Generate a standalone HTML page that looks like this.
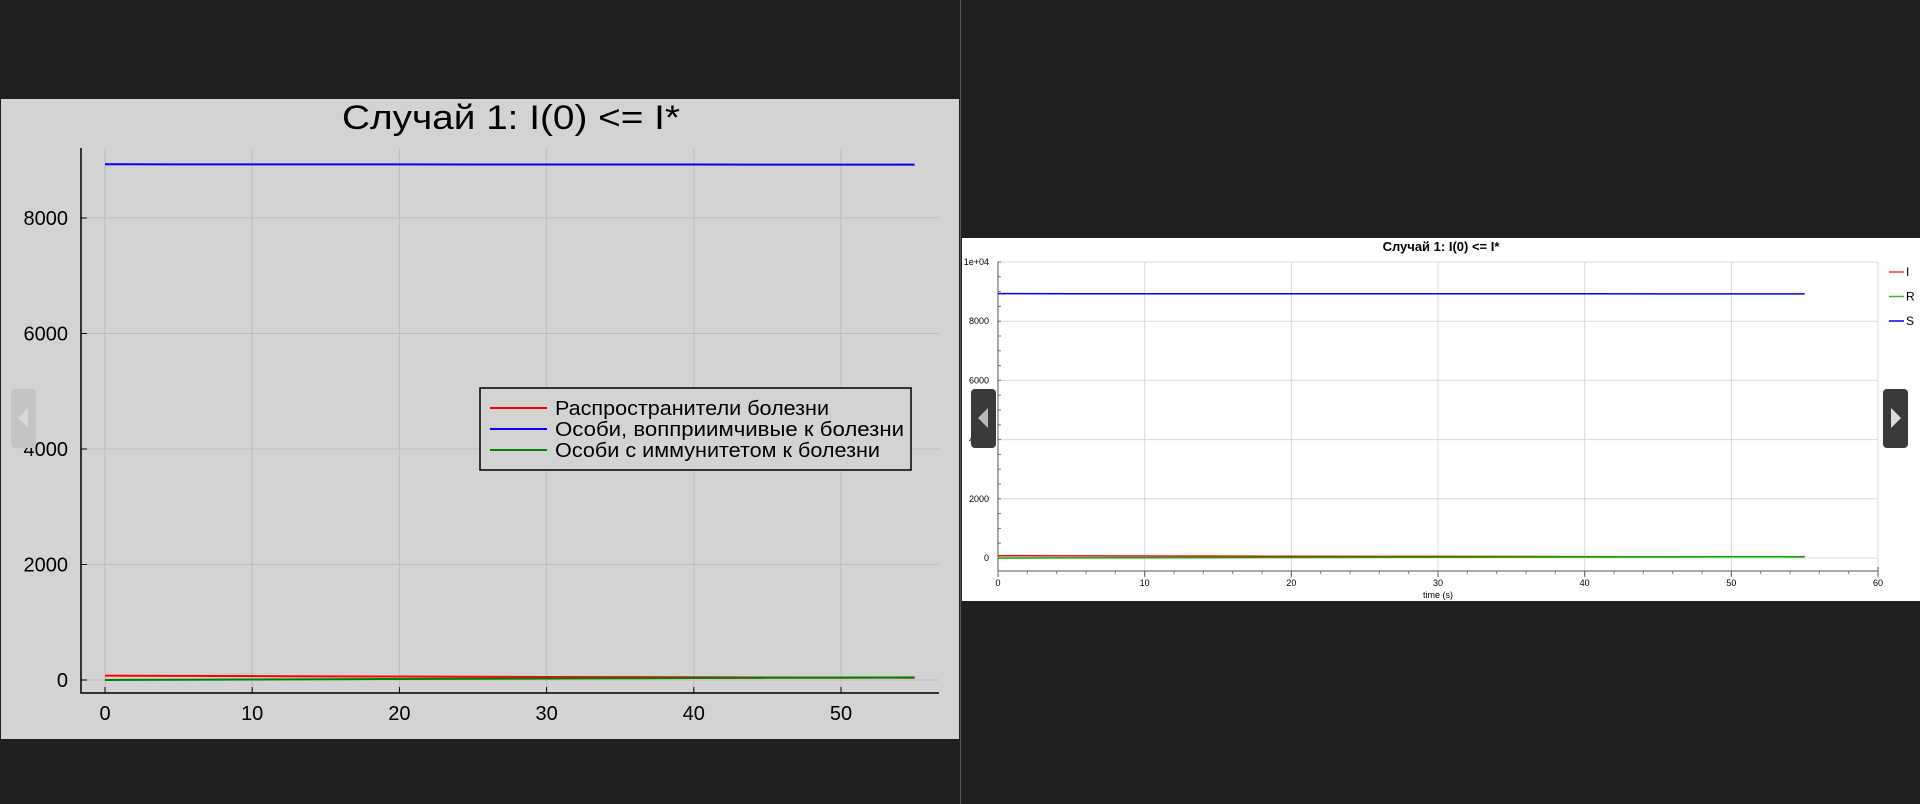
<!DOCTYPE html>
<html><head><meta charset="utf-8"><style>
html,body{margin:0;padding:0;background:#202020;width:1920px;height:804px;overflow:hidden}
svg{display:block}
text{font-family:"Liberation Sans","DejaVu Sans",sans-serif}
</style></head><body>
<svg id="s" width="1920" height="804" xmlns="http://www.w3.org/2000/svg">
<rect x="0" y="0" width="1920" height="804" fill="#202020"/>
<rect x="1" y="99" width="958" height="640" fill="#d3d3d3"/>
<line x1="960.5" y1="0" x2="960.5" y2="804" stroke="#555" stroke-width="1"/>
<rect x="962" y="238" width="958" height="363" fill="#ffffff"/>
<g id="L"></g>
<g id="R"></g>
<rect x="11" y="389" width="25" height="59" rx="4" fill="#c4c4c4"/>
<polygon points="28,408 18,418 28,428" fill="#d8d8d8"/>
<rect x="971" y="389" width="25" height="59" rx="4" fill="#3a3a3a"/>
<polygon points="988,408 978,418 988,428" fill="#bbb"/>
<rect x="1883" y="389" width="25" height="59" rx="4" fill="#3a3a3a"/>
<polygon points="1891,408 1901,418 1891,428" fill="#ddd"/>
</svg>
<script>
const times = [0, 5, 10, 15, 20, 25, 30, 35, 40, 45, 50, 55];
const infected = [75, 71, 67, 63, 60, 56, 53, 50, 47, 44, 42, 40];
const recovered = [0, 5, 9, 14, 18, 22, 26, 30, 34, 38, 41, 45];
const susceptible = [8930, 8929, 8929, 8928, 8928, 8927, 8927, 8926, 8926, 8925, 8925, 8925];
const leftXTicks = [0, 10, 20, 30, 40, 50];
const leftYTicks = [0, 2000, 4000, 6000, 8000];
const rightXTicks = [0, 10, 20, 30, 40, 50, 60];
const rightYTicks = [0, 2000, 4000, 6000, 8000, 10000];
const rightYLabels = ["0", "2000", "4000", "6000", "8000", "1e+04"];
const legendLabels = ["Распространители болезни", "Особи, вопприимчивые к болезни", "Особи с иммунитетом к болезни"];
const legendWidths = [274, 349, 325];

const NS = "http://www.w3.org/2000/svg";
function mk(parent, tag, attrs, txt) {
  const e = document.createElementNS(NS, tag);
  for (const k in attrs) e.setAttribute(k, attrs[k]);
  if (txt !== undefined) e.textContent = txt;
  parent.appendChild(e);
  return e;
}
function pts(xs, ys, fx, fy) { return xs.map((t, i) => fx(t) + "," + fy(ys[i])).join(" "); }

// LEFT
const L = document.getElementById("L");
const lx = v => 105 + v * 14.72;
const ly = v => 680 - v * 0.05775;
let e;
e = mk(L, "text", {x: 511, y: 129, "font-size": 34, "text-anchor": "middle", fill: "#000", textLength: 338, lengthAdjust: "spacingAndGlyphs"}, "Случай 1: I(0) <= I*");


leftXTicks.forEach(v => {
  e = mk(L, "line", {x1: lx(v), y1: 148, x2: lx(v), y2: 693, stroke: "#bdbdbd", "stroke-width": 1});
  
  
  mk(L, "line", {x1: lx(v), y1: 693, x2: lx(v), y2: 687, stroke: "#000", "stroke-width": 1});
  e = mk(L, "text", {x: lx(v), y: 720, "font-size": 20, "text-anchor": "middle", fill: "#000"}, String(v));
  
  
});
leftYTicks.forEach(v => {
  e = mk(L, "line", {x1: 81, y1: ly(v), x2: 939, y2: ly(v), stroke: "#bdbdbd", "stroke-width": 1});
  
  
  mk(L, "line", {x1: 81, y1: ly(v), x2: 87, y2: ly(v), stroke: "#000", "stroke-width": 1});
  e = mk(L, "text", {x: 68, y: ly(v) + 7, "font-size": 20, "text-anchor": "end", fill: "#000"}, String(v));
  
  
});
e = mk(L, "path", {d: "M81 148 V693 H939", stroke: "#000", "stroke-width": 1.5, fill: "none"});


[[infected, "#ff0000", "line-infected"], [susceptible, "#0000ff", "line-susceptible"], [recovered, "#008000", "line-recovered"]].forEach(s => {
  e = mk(L, "polyline", {points: pts(times, s[0], lx, ly), stroke: s[1], "stroke-width": 2, fill: "none"});
  
  
});
e = mk(L, "rect", {x: 480, y: 388, width: 431, height: 82, fill: "#d3d3d3", stroke: "#000", "stroke-width": 1.5});


["#ff0000", "#0000ff", "#008000"].forEach((c, i) => {
  const y = 408 + i * 21;
  mk(L, "line", {x1: 490, y1: y, x2: 547, y2: y, stroke: c, "stroke-width": 2});
  e = mk(L, "text", {x: 555, y: y + 7, "font-size": 20, fill: "#000", textLength: legendWidths[i], lengthAdjust: "spacingAndGlyphs"}, legendLabels[i]);
  
  
});

// RIGHT
const R = document.getElementById("R");
const rx = v => 998 + v * 14.667;
const ry = v => 558 - v * 0.0296;
e = mk(R, "text", {x: 1441, y: 251, "font-size": 13, "font-weight": "bold", "text-anchor": "middle", fill: "#000"}, "Случай 1: I(0) <= I*");


rightXTicks.forEach(v => {
  e = mk(R, "line", {x1: rx(v), y1: 262, x2: rx(v), y2: 571, stroke: "#dcdcdc", "stroke-width": 1});
  
  
  mk(R, "line", {x1: rx(v), y1: 571, x2: rx(v), y2: 577, stroke: "#555", "stroke-width": 1});
  e = mk(R, "text", {x: rx(v), y: 586, "font-size": 9, "text-anchor": "middle", fill: "#000"}, String(v));
  
  
});
for (let v = 0; v <= 60; v += 2) mk(R, "line", {x1: rx(v), y1: 571, x2: rx(v), y2: 574, stroke: "#777", "stroke-width": 1});
rightYTicks.forEach((v, i) => {
  e = mk(R, "line", {x1: 998, y1: ry(v), x2: 1878, y2: ry(v), stroke: "#dcdcdc", "stroke-width": 1});
  
  
  e = mk(R, "text", {x: 989, y: ry(v) + 3, "font-size": 9, "text-anchor": "end", fill: "#000"}, rightYLabels[i]);
  
  
});
for (let v = 0; v <= 10000; v += 500) mk(R, "line", {x1: 998, y1: ry(v), x2: 1001, y2: ry(v), stroke: "#777", "stroke-width": 1});
e = mk(R, "path", {d: "M998 262 V571 H1878 V567", stroke: "#555", "stroke-width": 1, fill: "none"});


e = mk(R, "text", {x: 1438, y: 598, "font-size": 9, "text-anchor": "middle", fill: "#000"}, "time (s)");


[[infected, "#ff0000", "series-I"], [recovered, "#00b000", "series-R"], [susceptible, "#0000ff", "series-S"]].forEach(s => {
  e = mk(R, "polyline", {points: pts(times, s[0], rx, ry), stroke: s[1], "stroke-width": 1.5, fill: "none"});
  
  
});
[["I", "#ff3333"], ["R", "#33bb33"], ["S", "#0000ff"]].forEach((s, i) => {
  const y = 272 + i * 24.5;
  mk(R, "line", {x1: 1889, y1: y, x2: 1904, y2: y, stroke: s[1], "stroke-width": 1.5});
  e = mk(R, "text", {x: 1906, y: y + 4, "font-size": 12, fill: "#000"}, s[0]);
  
  
});
</script>
</body></html>
